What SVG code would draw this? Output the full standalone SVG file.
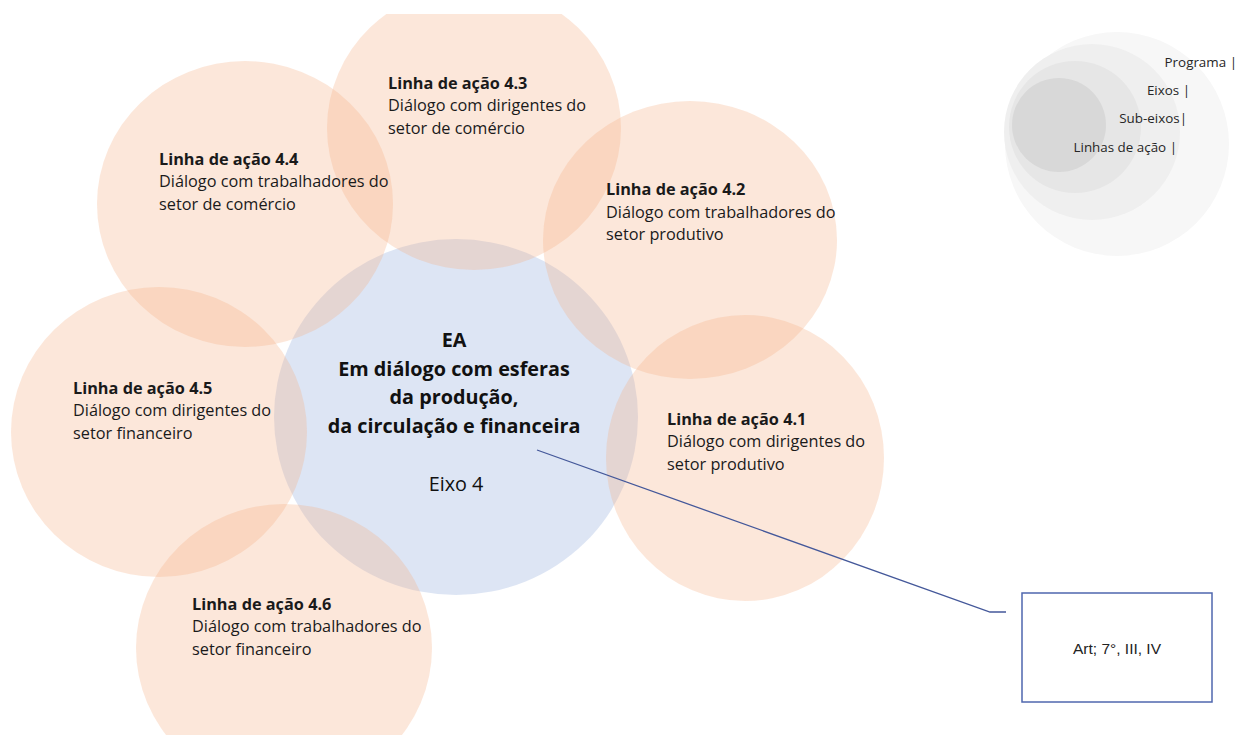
<svg xmlns="http://www.w3.org/2000/svg" width="1238" height="735" viewBox="0 0 1238 735">
  <defs>
    <clipPath id="page">
      <rect x="0" y="14" width="1238" height="721"/>
    </clipPath>
  </defs>
  <style>
    .orange { fill: #F4B183; fill-opacity: 0.3; }
    .blue { fill: #8FAADC; fill-opacity: 0.3; }
    .t { font-family: "Open Sans", "Noto Sans", sans-serif; font-size: 16.3px; fill: #1a1a1a; }
    .b { font-weight: bold; }
    .c { font-family: "Open Sans", "Noto Sans", sans-serif; font-size: 19.8px; fill: #111; text-anchor: middle; }
    .leg { font-family: "Open Sans", "Noto Sans", sans-serif; font-size: 13.4px; fill: #262626; text-anchor: end; }
    .conn { fill: none; stroke: #44589A; stroke-width: 1.3; }
    .box { fill: #ffffff; stroke: #4F67AE; stroke-width: 1.5; }
    .bt { font-family: "Liberation Sans", Arial, sans-serif; font-size: 15.5px; fill: #222; text-anchor: middle; }
  </style>

  <g clip-path="url(#page)">
    <g id="eixo4">
      <ellipse class="blue" cx="456" cy="417" rx="182" ry="178"/>
    </g>
    <g id="linha-4-3">
      <ellipse class="orange" cx="474" cy="128" rx="147" ry="142"/>
    </g>
    <g id="linha-4-4">
      <ellipse class="orange" cx="245" cy="204" rx="148" ry="143"/>
    </g>
    <g id="linha-4-2">
      <ellipse class="orange" cx="690" cy="240" rx="147" ry="139"/>
    </g>
    <g id="linha-4-5">
      <ellipse class="orange" cx="159" cy="432" rx="148" ry="145"/>
    </g>
    <g id="linha-4-1">
      <ellipse class="orange" cx="745" cy="458" rx="139" ry="143"/>
    </g>
    <g id="linha-4-6">
      <ellipse class="orange" cx="284" cy="648" rx="148" ry="144"/>
    </g>
  </g>

  <g id="labels">
    <text class="t"><tspan class="b" x="388" y="89">Linha de ação 4.3</tspan><tspan x="388" y="111">Diálogo com dirigentes do</tspan><tspan x="388" y="134">setor de comércio</tspan></text>
    <text class="t"><tspan class="b" x="159" y="165">Linha de ação 4.4</tspan><tspan x="159" y="187">Diálogo com trabalhadores do</tspan><tspan x="159" y="210">setor de comércio</tspan></text>
    <text class="t"><tspan class="b" x="606" y="195">Linha de ação 4.2</tspan><tspan x="606" y="218">Diálogo com trabalhadores do</tspan><tspan x="606" y="240">setor produtivo</tspan></text>
    <text class="t"><tspan class="b" x="73" y="394">Linha de ação 4.5</tspan><tspan x="73" y="416">Diálogo com dirigentes do</tspan><tspan x="73" y="439">setor financeiro</tspan></text>
    <text class="t"><tspan class="b" x="667" y="425">Linha de ação 4.1</tspan><tspan x="667" y="447">Diálogo com dirigentes do</tspan><tspan x="667" y="470">setor produtivo</tspan></text>
    <text class="t"><tspan class="b" x="192" y="610">Linha de ação 4.6</tspan><tspan x="192" y="632">Diálogo com trabalhadores do</tspan><tspan x="192" y="655">setor financeiro</tspan></text>
    <text class="c b"><tspan x="454" y="347">EA</tspan><tspan x="454" y="376">Em diálogo com esferas</tspan><tspan x="454" y="404">da produção,</tspan><tspan x="454" y="433">da circulação e financeira</tspan></text>
    <text class="c" x="456" y="491">Eixo 4</text>
  </g>

  <g id="legend">
    <circle cx="1117" cy="144" r="112" fill="#f7f7f7"/>
    <circle cx="1092" cy="132" r="88" fill="#efefef"/>
    <circle cx="1075" cy="127" r="66" fill="#e6e6e6"/>
    <circle cx="1059" cy="125" r="47" fill="#d8d8d8"/>
    <text class="leg" x="1237" y="67">Programa |</text>
    <text class="leg" x="1190" y="95">Eixos |</text>
    <text class="leg" x="1187" y="123">Sub-eixos|</text>
    <text class="leg" x="1177" y="152">Linhas de ação |</text>
  </g>

  <g id="connectors">
    <path class="conn" d="M537,450 L990,612 L1006,612"/>
  </g>

  <g id="art-box">
    <rect class="box" x="1022" y="593" width="190" height="109"/>
    <text class="bt" x="1117" y="654">Art; 7°, III, IV</text>
  </g>
</svg>
